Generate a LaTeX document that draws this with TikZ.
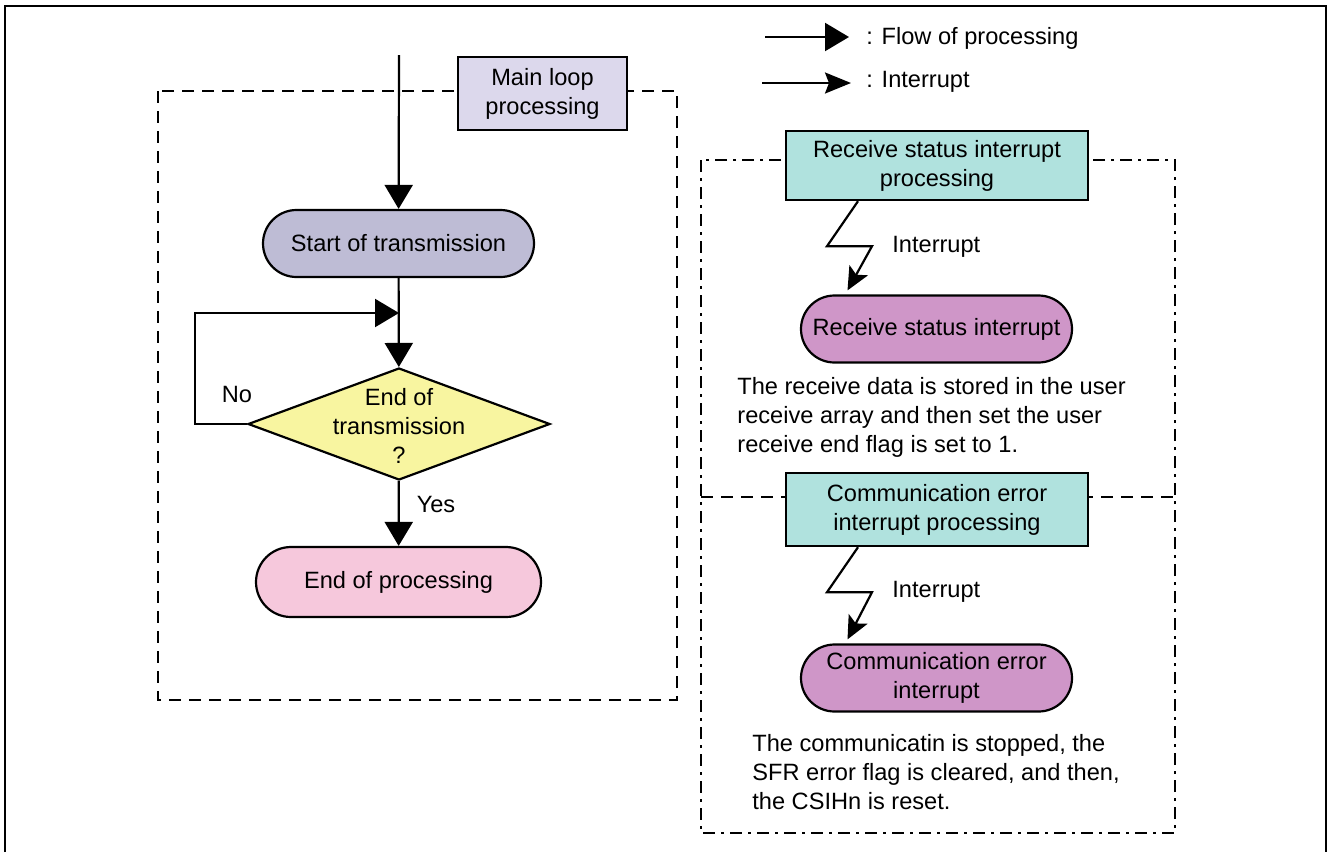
\documentclass[tikz,border=0pt]{standalone}
\usepackage{fontspec}
\setmainfont{Liberation Sans}
\usetikzlibrary{arrows.meta,shapes.geometric,shapes.misc,calc}

\definecolor{mainfill}{HTML}{DCD8EC}
\definecolor{startfill}{HTML}{BEBCD5}
\definecolor{decfill}{HTML}{F8F5A0}
\definecolor{endfill}{HTML}{F6C8DC}
\definecolor{isrfill}{HTML}{B0E2DE}
\definecolor{intfill}{HTML}{CF96C8}

\tikzset{
  x=0.5pt, y=-0.5pt,
  every node/.style={font=\fontsize{11.8}{14.5}\selectfont, text=black},
  boxnode/.style={draw, line width=1.2pt, rectangle, align=center, inner sep=2pt},
  termnode/.style={draw, line width=1.1pt, rounded rectangle, align=center, inner sep=2pt},
  decnode/.style={draw, line width=1.1pt, diamond, inner sep=0pt, fill=decfill},
  flow/.style={line width=1.1pt, -{Triangle[length=12pt,width=14pt]}},
  intr/.style={line width=1.1pt, line join=miter, -{Stealth[length=11.5pt,width=10.5pt,inset=2.5pt]}},
  plain/.style={inner sep=0pt},
  grouplong/.style={line width=1.2pt, dash pattern=on 6pt off 4pt},
  groupdot/.style={line width=1.2pt, dash pattern=on 6pt off 3pt on 1.5pt off 3pt},
}

\begin{document}
\begin{tikzpicture}
\useasboundingbox (0,0) rectangle (1328,852);

% outer frame
\draw[line width=1.4pt] (5,852) -- (5,6) -- (1326,6) -- (1326,852);

% group outlines
\draw[grouplong] (158,91) rectangle (677,700);
\draw[groupdot] (701,160) rectangle (1175,833);
\draw[grouplong] (701,497) -- (1175,497);

% legend
\coordinate (lfa) at (765,37);
\coordinate (lfb) at (849,37);
\coordinate (lia) at (762,83);
\coordinate (lib) at (851,83);
\draw[flow] (lfa) -- (lfb);
\draw[intr, -{Stealth[length=13pt,width=10.5pt,inset=2pt]}] (lia) -- (lib);
\node[plain, anchor=west] (lflow) at (866,38) {: Flow of processing};
\node[plain, anchor=west] (lint) at (866,82) {: Interrupt};

% main loop
\node[boxnode, fill=mainfill, minimum width=84.5pt, minimum height=36.5pt] (main) at (542.5,93.5) {Main loop\\processing};
\coordinate (entry) at (399,55);
\node[termnode, fill=startfill, minimum width=139.5pt, minimum height=33.5pt] (start) at (398.5,243.5) {Start of transmission};
\node[decnode, minimum width=151pt, minimum height=56pt] (dec) at (399,424) {};
\node[plain, align=center] (dectext) at (399,426) {End of\\transmission\\?};
\node[termnode, fill=endfill, minimum width=146.5pt, minimum height=35pt] (endp) at (398.5,582) {End of processing};
\coordinate (join) at (399,313);

\draw[flow] (entry) -- (start);
\draw[flow] (start) -- (dec);
\draw[flow] (dec.west) -- ++(-52,0) |- (join);
\draw[flow] (dec) -- (endp);
\node[plain] (nolab) at (237,394) {No};
\node[plain] (yeslab) at (436,504) {Yes};

% receive status interrupt
\node[boxnode, fill=isrfill, minimum width=151pt, minimum height=34.5pt] (rsp) at (937,165.5) {Receive status interrupt\\processing};
\node[termnode, fill=intfill, minimum width=139.5pt, minimum height=33.5pt] (rsi) at (936.5,329) {Receive status interrupt};
\draw[intr] ([xshift=-39.5pt]rsp.south) -- ++(-31,45) -- ++(45,0) -- ([xshift=-44.5pt,yshift=2pt]rsi.north);
\node[plain, anchor=west] (rlab) at (892,247) {Interrupt};
\node[plain, anchor=west, align=left] (rtext) at (737,417) {The receive data is stored in the user\\receive array and then set the user\\receive end flag is set to 1.};

% communication error interrupt
\node[boxnode, fill=isrfill, minimum width=151pt, minimum height=36.5pt] (cep) at (937,509.5) {Communication error\\interrupt processing};
\node[termnode, fill=intfill, minimum width=139.5pt, minimum height=33.5pt] (cei) at (936.5,678) {Communication error\\interrupt};
\draw[intr] ([xshift=-39.5pt]cep.south) -- ++(-31,45) -- ++(45,0) -- ([xshift=-44.5pt,yshift=2pt]cei.north);
\node[plain, anchor=west] (clab) at (892,592) {Interrupt};
\node[plain, anchor=west, align=left] (ctext) at (752,772) {The communicatin is stopped, the\\SFR error flag is cleared, and then,\\the CSIHn is reset.};
\end{tikzpicture}
\end{document}
